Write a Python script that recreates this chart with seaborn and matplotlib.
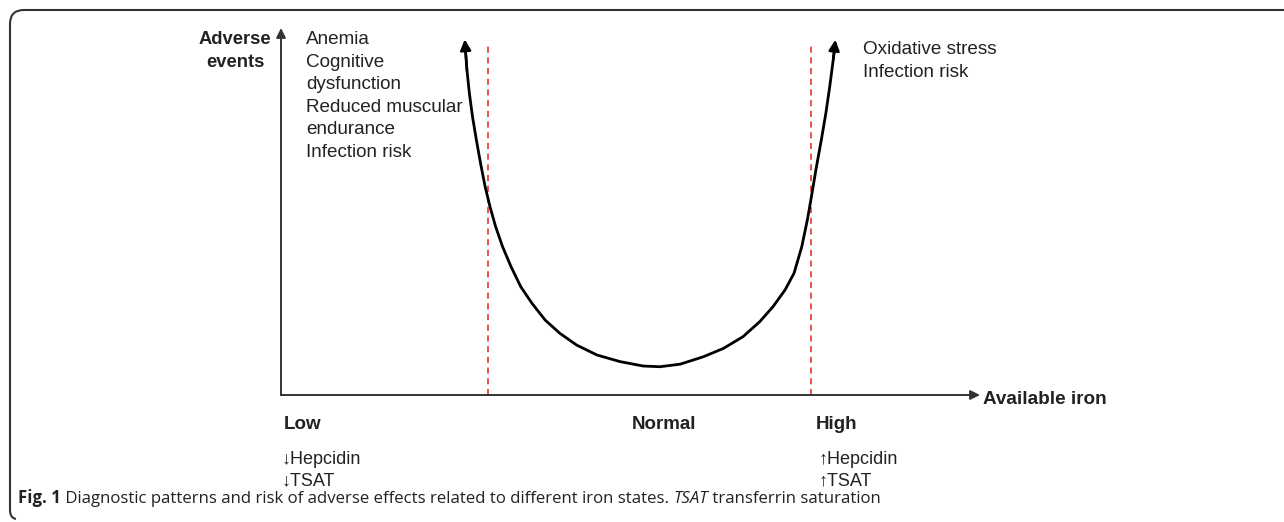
import numpy as np
import pandas as pd
import matplotlib
matplotlib.use("Agg")
import matplotlib.pyplot as plt
from matplotlib.path import Path
from matplotlib.patches import PathPatch
import seaborn as sns

# ---------------- data ----------------
# x: available iron (0 = origin, 100 = arrow tip); y: adverse events (0..100)
curve_x = [26.3, 26.6, 26.95, 27.4, 27.95, 28.55, 29.2, 29.9, 30.7, 31.7, 32.9, 34.3,
           35.9, 37.8, 39.9, 42.3, 45.2, 48.5, 51.8, 54.2, 57.1, 60.4, 63.3, 66.1,
           68.5, 70.4, 72.1, 73.4, 74.5, 75.3, 75.8, 76.6, 77.3, 77.95, 78.5, 79.0, 79.3]
curve_y = [95.9, 88.6, 82.2, 75.8, 69.5, 63.1, 56.8, 51.3, 45.9, 40.4, 35.0, 29.5,
           25.0, 20.4, 16.8, 13.6, 10.9, 9.1, 7.9, 7.7, 8.4, 10.4, 12.7, 15.9,
           20.0, 24.1, 28.6, 33.2, 40.4, 47.7, 53.1, 62.2, 69.5, 76.8, 84.0, 91.3, 95.8]
boundary_x = [29.6, 75.8]
boundary_top = 95.9
state_labels = ["Low", "Normal", "High"]
state_pos = [3.1, 54.8, 79.4]
low_markers = ["\u2193Hepcidin", "\u2193TSAT"]
high_markers = ["\u2191Hepcidin", "\u2191TSAT"]
low_effects = ["Anemia", "Cognitive", "dysfunction", "Reduced muscular",
               "endurance", "Infection risk"]
high_effects = ["Oxidative stress", "Infection risk"]
y_label = ["Adverse", "events"]
x_label = "Available iron"
caption_parts = [("Fig. 1", "bold", "normal"),
                 (" Diagnostic patterns and risk of adverse effects related to different iron states. ", "normal", "normal"),
                 ("TSAT", "normal", "italic"),
                 (" transferrin saturation", "normal", "normal")]

# ---------------- figure ----------------
sns.set_theme(style="white")
plt.rcParams["font.family"] = ["Liberation Sans", "DejaVu Sans"]
W, H = 1284, 522
fig = plt.figure(figsize=(W / 100, H / 100), dpi=100)
fig.patch.set_facecolor("white")

def fx(px):
    return px / W

def fy(py):
    return 1 - py / H

ox, oy, tipx, tipy = 281, 395, 980, 28
ax = fig.add_axes([fx(ox), fy(oy), (tipx - ox) / W, (oy - tipy) / H])
ax.set_xlim(0, 100)
ax.set_ylim(0, 100)
for s in ax.spines.values():
    s.set_visible(False)
ax.set_facecolor("none")

axis_col = "#333333"
tc = "#222222"
# axes with arrowheads
for end in [(100, 0), (0, 100)]:
    ax.annotate("", xy=end, xytext=(0, 0), xycoords="data",
                arrowprops=dict(arrowstyle="-|>", color=axis_col, lw=1.4,
                                mutation_scale=14, shrinkA=0, shrinkB=0),
                annotation_clip=False)

# red dashed boundaries
ax.vlines(boundary_x, 0, boundary_top, colors="#e2231a", lw=1.1,
          linestyles=[(0, (4, 3))])

# U-shaped curve
df = pd.DataFrame({"iron": curve_x, "events": curve_y})
sns.lineplot(data=df, x="iron", y="events", sort=False, estimator=None,
             ax=ax, color="black", lw=2.0)
for i0, i1 in [(1, 0), (-2, -1)]:
    ax.annotate("", xy=(curve_x[i1], curve_y[i1] + 1.0),
                xytext=(curve_x[i0], curve_y[i0]),
                arrowprops=dict(arrowstyle="-|>", color="black", lw=1.8,
                                mutation_scale=16, shrinkA=0, shrinkB=0),
                annotation_clip=False)
ax.set_xlabel("")
ax.set_ylabel("")
ax.set_yticks([])
ax.set_xticks(state_pos)
ax.set_xticklabels(state_labels, fontsize=13.5, fontweight="bold", color=tc)
ax.tick_params(axis="x", length=0, pad=15)

# ---------------- texts ----------------
for i, t in enumerate(y_label):
    fig.text(fx(235), fy(44 + 23 * i), t, ha="center", va="baseline",
             fontsize=13.2, fontweight="bold", color=tc)
fig.text(fx(983), fy(404), x_label, ha="left", va="baseline", fontsize=13.6,
         fontweight="bold", color=tc)
for i, t in enumerate(low_effects):
    fig.text(fx(306), fy(44 + 22.6 * i), t, ha="left", va="baseline",
             fontsize=13.6, color=tc)
for i, t in enumerate(high_effects):
    fig.text(fx(863), fy(54 + 22.6 * i), t, ha="left", va="baseline",
             fontsize=13.6, color=tc)
for i, t in enumerate(low_markers):
    fig.text(fx(282), fy(464 + 21 * i), t, ha="left", va="baseline",
             fontsize=13, color=tc)
for i, t in enumerate(high_markers):
    fig.text(fx(819), fy(464 + 21 * i), t, ha="left", va="baseline",
             fontsize=13, color=tc)

# caption
fig.canvas.draw()
renderer = fig.canvas.get_renderer()
xcur = 18
for txt, wgt, sty in caption_parts:
    t = fig.text(fx(xcur), fy(503), txt, ha="left", va="baseline",
                 fontsize=12.1, fontweight=wgt, fontstyle=sty, color="#222222",
                 family=["Open Sans", "DejaVu Sans"])
    bb = t.get_window_extent(renderer=renderer)
    xcur += bb.width

# frame (top line + left line with rounded corners)
r = 14
verts = [(W + 5, 10), (10 + r, 10), (10, 10), (10, 10 + r), (10, 510), (10, 518), (16, 519)]
codes = [Path.MOVETO, Path.LINETO, Path.CURVE3, Path.CURVE3, Path.LINETO, Path.CURVE3, Path.CURVE3]
verts = [(fx(a), fy(b)) for a, b in verts]
fig.add_artist(PathPatch(Path(verts, codes), transform=fig.transFigure,
                         fill=False, lw=1.5, edgecolor="#333333"))

fig.savefig("out.png", dpi=100, facecolor="white")
